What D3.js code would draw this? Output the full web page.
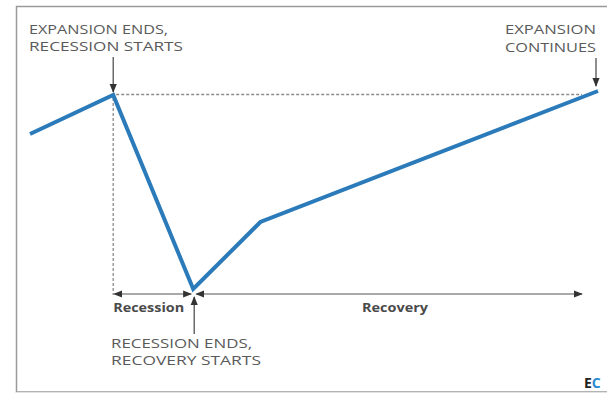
<!DOCTYPE html>
<html>
<head>
<meta charset="utf-8">
<script src="https://cdn.jsdelivr.net/npm/d3@7"></script>
<style>
  html, body { margin: 0; padding: 0; background: #fff; }
  svg { display: block; }
  text { font-family: "Open Sans", "DejaVu Sans", sans-serif; }
</style>
</head>
<body>
<script>
// Business-cycle sketch: time (months) vs. activity index (peak = 100)
const months   = [0, 10.4, 20.4, 28.8, 71];
const activity = [80.5, 100, 3, 36.5, 102];
const phaseLabels = ["Recession", "Recovery"];
const notes = {
  peak:   ["EXPANSION ENDS,", "RECESSION STARTS"],
  trough: ["RECESSION ENDS,", "RECOVERY STARTS"],
  end:    ["EXPANSION", "CONTINUES"]
};

const W = 607, H = 394;
const svg = d3.select("body").append("svg").attr("width", W).attr("height", H);

const defs = svg.append("defs");
defs.append("marker").attr("id", "head")
  .attr("viewBox", "0 0 10 10").attr("refX", 9).attr("refY", 5)
  .attr("markerWidth", 9).attr("markerHeight", 9).attr("markerUnits", "userSpaceOnUse")
  .attr("orient", "auto-start-reverse")
  .append("path").attr("d", "M0,1 L10,5 L0,9 Z").attr("fill", "#333");

// frame
svg.append("rect").attr("x", 16.5).attr("y", 6.5).attr("width", 620).attr("height", 385.5)
  .attr("fill", "#fff").attr("stroke", "#9a9a9a").attr("stroke-width", 1.5);
svg.append("line").attr("x1", 16).attr("x2", W).attr("y1", 392.5).attr("y2", 392.5)
  .attr("stroke", "#e2e2e2").attr("stroke-width", 1);

const x = d3.scaleLinear().domain([0, 71]).range([30, 598]);
const y = d3.scaleLinear().domain([0, 100]).range([295, 95]);

const pts = months.map((m, i) => [m, activity[i]]);
const peak = pts[1], trough = pts[2], last = pts[4];

const grey = "#8a8a8a";
// dotted guides from the peak
svg.append("line")
  .attr("x1", x(peak[0])).attr("x2", x(peak[0]))
  .attr("y1", y(peak[1]) + 3).attr("y2", y(0))
  .attr("stroke", grey).attr("stroke-width", 1.3).attr("stroke-dasharray", "3,2");
svg.append("line")
  .attr("x1", x(peak[0]) + 3).attr("x2", x(last[0]) - 16)
  .attr("y1", y(peak[1]) - 0.5).attr("y2", y(peak[1]) - 0.5)
  .attr("stroke", grey).attr("stroke-width", 1.3).attr("stroke-dasharray", "3,2");

// phase arrows
const arrowY = y(0.5);
const arrowStyle = sel => sel.attr("stroke", "#555").attr("stroke-width", 1.2)
  .attr("marker-start", "url(#head)").attr("marker-end", "url(#head)");
svg.append("line").attr("x1", x(peak[0]) + 1).attr("x2", x(trough[0]) - 2)
  .attr("y1", arrowY).attr("y2", arrowY).call(arrowStyle);
svg.append("line").attr("x1", x(trough[0]) + 3).attr("x2", x(last[0]) - 16)
  .attr("y1", arrowY).attr("y2", arrowY).call(arrowStyle);

// the cycle line
svg.append("path").datum(pts)
  .attr("d", d3.line().x(d => x(d[0])).y(d => y(d[1])))
  .attr("fill", "none").attr("stroke", "#2b7bba").attr("stroke-width", 4)
  .attr("stroke-linejoin", "miter");

// phase labels
svg.append("text").attr("x", x(peak[0])).attr("y", 312)
  .attr("font-size", 12.5).attr("font-weight", 700).attr("fill", "#4a4a4a")
  .attr("textLength", 71).attr("lengthAdjust", "spacingAndGlyphs")
  .text(phaseLabels[0]);
svg.append("text").attr("x", 395).attr("y", 312).attr("text-anchor", "middle")
  .attr("font-size", 12.5).attr("font-weight", 700).attr("fill", "#4a4a4a")
  .attr("textLength", 66).attr("lengthAdjust", "spacingAndGlyphs")
  .text(phaseLabels[1]);

// pointer arrows
const pointer = (x0, y0, y1) => svg.append("line")
  .attr("x1", x0).attr("x2", x0).attr("y1", y0).attr("y2", y1)
  .attr("stroke", "#444").attr("stroke-width", 1.2).attr("marker-end", "url(#head)");
pointer(x(peak[0]), 57, y(peak[1]) - 3);
pointer(x(last[0]) - 2, 58, y(last[1]) - 5);
pointer(x(trough[0]) + 1, 334, arrowY + 3);

// annotation text
const noteText = (lines, x0, baselines, anchor, widths) => {
  lines.forEach((s, i) => {
    svg.append("text").attr("x", x0).attr("y", baselines[i])
      .attr("text-anchor", anchor).attr("font-size", 13.5).attr("fill", "#5a5a5a")
      .attr("textLength", widths[i]).attr("lengthAdjust", "spacingAndGlyphs")
      .text(s);
  });
};
noteText(notes.peak, 29, [34, 51], "start", [139, 154]);
noteText(notes.end, 596, [34, 52], "end", [91, 91]);
noteText(notes.trough, 111, [348, 365], "start", [141, 150]);

// corner logo
const logo = svg.append("text").attr("x", 584).attr("y", 388)
  .attr("font-size", 14).attr("font-weight", 700).attr("fill", "#222");
logo.append("tspan").text("E");
logo.append("tspan").attr("fill", "#2b8bd0").text("C");
</script>
</body>
</html>
